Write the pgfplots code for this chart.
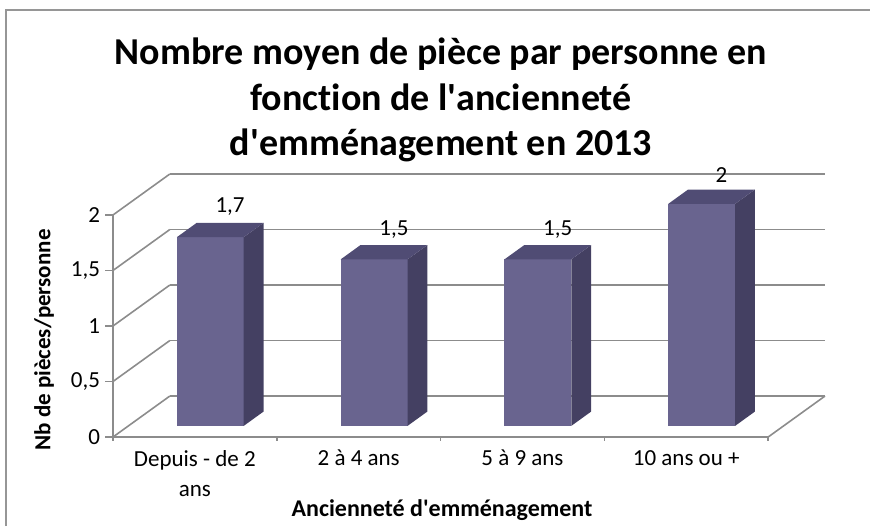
\documentclass[border=0pt]{standalone}
\usepackage{pgfplots}
\pgfplotsset{compat=1.18}
\usepackage{fontspec}
\setmainfont{Carlito}[Ligatures=NoCommon]
\definecolor{barfront}{RGB}{105,100,143}
\definecolor{barside}{RGB}{68,64,98}
\definecolor{bartop}{RGB}{80,76,116}
\definecolor{gridc}{RGB}{140,140,140}
\definecolor{framec}{RGB}{150,150,150}
\newcommand{\q}{\textquotesingle}
\begin{document}
\begin{tikzpicture}
\path[use as bounding box] (0,0) rectangle (435pt,263pt);
\draw[framec, line width=1pt] (3pt,0) -- (3pt,258pt) -- (435pt,258pt);
\node[anchor=base, font=\bfseries\fontsize{19}{22}\selectfont] at (220.5pt,230.5pt) {Nombre moyen de pièce par personne en};
\node[anchor=base, font=\bfseries\fontsize{19}{22}\selectfont] at (220.5pt,208pt) {fonction de l\q ancienneté};
\node[anchor=base, font=\bfseries\fontsize{19}{22}\selectfont] at (220.5pt,185.5pt) {d\q emménagement en 2013};
\node[anchor=base, font=\bfseries\fontsize{12}{14}\selectfont] at (221pt,5pt) {Ancienneté d\q emménagement};
\node[rotate=90, font=\bfseries\fontsize{11.5}{14}\selectfont] at (22pt,93pt) {Nb de pièces/personne};
\begin{axis}[
  at={(56.5pt,44.5pt)}, anchor=south west,
  scale only axis, width=356pt, height=131.5pt,
  xmin=-0.5, xmax=3.847, ymin=0, ymax=2.369,
  clip=false,
  axis line style={draw=none},
  xtick={0,1,2,3},
  xticklabels={{Depuis - de 2\\ans},{2 à 4 ans},{5 à 9 ans},{10 ans ou +}},
  xtick style={draw=none},
  ytick={0,0.5,1,1.5,2},
  yticklabels={0,{0,5},1,{1,5},2},
  xtick pos=bottom, ytick pos=left,
  tick align=outside,
  major tick length=4pt,
  ytick style={gridc, line width=0.8pt},
  tick label style={font=\fontsize{11.5}{15}\selectfont},
  xticklabel style={align=center, yshift=1pt},
  yticklabel style={xshift=1pt},
]
% back wall gridlines
\addplot[gridc, line width=0.8pt] coordinates {(-0.153,0.369) (3.847,0.369)};
\addplot[gridc, line width=0.8pt] coordinates {(-0.153,0.869) (3.847,0.869)};
\addplot[gridc, line width=0.8pt] coordinates {(-0.153,1.369) (3.847,1.369)};
\addplot[gridc, line width=0.8pt] coordinates {(-0.153,1.869) (3.847,1.869)};
\addplot[gridc, line width=0.8pt] coordinates {(-0.153,2.369) (3.847,2.369)};
% left wall diagonals
\addplot[gridc, line width=0.8pt] coordinates {(-0.5,0) (-0.153,0.369)};
\addplot[gridc, line width=0.8pt] coordinates {(-0.5,0.5) (-0.153,0.869)};
\addplot[gridc, line width=0.8pt] coordinates {(-0.5,1) (-0.153,1.369)};
\addplot[gridc, line width=0.8pt] coordinates {(-0.5,1.5) (-0.153,1.869)};
\addplot[gridc, line width=0.8pt] coordinates {(-0.5,2) (-0.153,2.369)};
% front axis and floor
\addplot[gridc, line width=0.8pt] coordinates {(-0.5,2) (-0.5,0) (3.5,0) (3.847,0.369)};
% x tick marks
\addplot[gridc, line width=0.8pt] coordinates {(-0.5,0) (-0.5,-0.04)};
\addplot[gridc, line width=0.8pt] coordinates {(0.5,0) (0.5,-0.04)};
\addplot[gridc, line width=0.8pt] coordinates {(1.5,0) (1.5,-0.04)};
\addplot[gridc, line width=0.8pt] coordinates {(2.5,0) (2.5,-0.04)};
\addplot[gridc, line width=0.8pt] coordinates {(3.5,0) (3.5,-0.04)};
% bar 1 : 1.7
\addplot[fill=barfront, draw=none] coordinates {(-0.110,0.100) (0.298,0.100) (0.298,1.800) (-0.110,1.800)} -- cycle;
\addplot[fill=barside, draw=none] coordinates {(0.298,0.100) (0.419,0.229) (0.419,1.929) (0.298,1.800)} -- cycle;
\addplot[fill=bartop, draw=none] coordinates {(-0.110,1.800) (0.298,1.800) (0.419,1.929) (0.011,1.929)} -- cycle;
% bar 2 : 1.5
\addplot[fill=barfront, draw=none] coordinates {(0.890,0.100) (1.298,0.100) (1.298,1.600) (0.890,1.600)} -- cycle;
\addplot[fill=barside, draw=none] coordinates {(1.298,0.100) (1.419,0.229) (1.419,1.729) (1.298,1.600)} -- cycle;
\addplot[fill=bartop, draw=none] coordinates {(0.890,1.600) (1.298,1.600) (1.419,1.729) (1.011,1.729)} -- cycle;
% bar 3 : 1.5
\addplot[fill=barfront, draw=none] coordinates {(1.890,0.100) (2.298,0.100) (2.298,1.600) (1.890,1.600)} -- cycle;
\addplot[fill=barside, draw=none] coordinates {(2.298,0.100) (2.419,0.229) (2.419,1.729) (2.298,1.600)} -- cycle;
\addplot[fill=bartop, draw=none] coordinates {(1.890,1.600) (2.298,1.600) (2.419,1.729) (2.011,1.729)} -- cycle;
% bar 4 : 2
\addplot[fill=barfront, draw=none] coordinates {(2.890,0.100) (3.298,0.100) (3.298,2.100) (2.890,2.100)} -- cycle;
\addplot[fill=barside, draw=none] coordinates {(3.298,0.100) (3.419,0.229) (3.419,2.229) (3.298,2.100)} -- cycle;
\addplot[fill=bartop, draw=none] coordinates {(2.890,2.100) (3.298,2.100) (3.419,2.229) (3.011,2.229)} -- cycle;
% data labels
\addplot[draw=none, nodes near coords, point meta=explicit symbolic,
  nodes near coords style={anchor=south, font=\fontsize{11.5}{14}\selectfont}]
  coordinates {(0.215,1.929) [1,7] (1.215,1.729) [1,5] (2.215,1.729) [1,5] (3.215,2.229) [2]};
\end{axis}
\end{tikzpicture}
\end{document}
